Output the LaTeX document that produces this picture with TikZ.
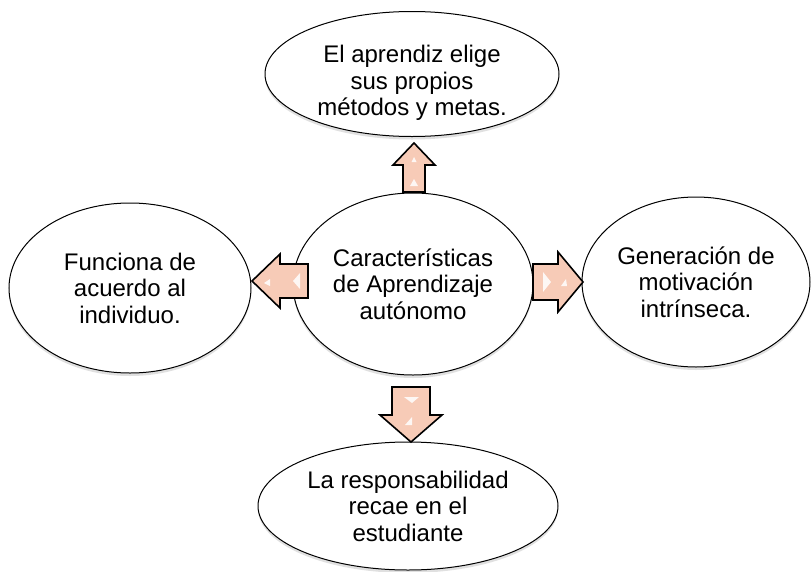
\documentclass[tikz,border=0pt]{standalone}
\usepackage{fontspec}
\setmainfont{Liberation Sans}
\usetikzlibrary{shapes.geometric,shadows}
\definecolor{arrowfill}{RGB}{247,203,183}
\tikzset{
  bubble/.style={ellipse, draw=black, line width=1pt, fill=white, inner sep=0pt,
    align=center, font=\fontsize{24}{26.5}\selectfont,
    drop shadow={shadow xshift=0pt, shadow yshift=-3pt, opacity=0.2, fill=black!60}},
  txt/.style={align=center, inner sep=0pt, font=\fontsize{24}{26.5}\selectfont},
  blockarrow/.style={draw=black, line width=1.6pt, line join=miter, fill=arrowfill},
  shine/.style={fill=white, opacity=0.85, draw=none}
}
\begin{document}
\begin{tikzpicture}[x=1pt,y=-1pt]
\path[use as bounding box, fill=white] (0,0) rectangle (812,571);
% ellipses
\node[bubble, minimum width=294pt, minimum height=125pt] (top) at (412,74) {};
\node[txt] (toptext) at (412,83) {El aprendiz elige\\sus propios\\métodos y metas.};
\node[bubble, minimum width=242pt, minimum height=170pt] (left) at (130,288) {Funciona de\\acuerdo al\\individuo.};
\node[bubble, minimum width=240pt, minimum height=182pt] (center) at (413,284) {Características\\de Aprendizaje\\autónomo};
\node[bubble, minimum width=228pt, minimum height=170pt] (right) at (696,282) {Generación de\\motivación\\intrínseca.};
\node[bubble, minimum width=300pt, minimum height=128pt] (bottom) at (408,506) {La responsabilidad\\recae en el\\estudiante};
% up arrow
\draw[blockarrow] (403,192) -- (403,165) -- (393,165) -- (414,143) -- (435,165) -- (425,165) -- (425,192) -- cycle;
\fill[shine] (411.5,162) -- (414,157) -- (416.5,162) -- cycle;
\fill[shine] (410,186) -- (414,179) -- (418,186) -- cycle;
% left arrow
\draw[blockarrow] (308,264) -- (280,264) -- (280,254) -- (252,281) -- (280,308) -- (280,298) -- (308,298) -- cycle;
\fill[shine] (264,283) -- (270,279) -- (270,286) -- cycle;
\fill[shine] (293,281) -- (300,273) -- (300,289) -- cycle;
% right arrow
\draw[blockarrow] (533,264) -- (558,264) -- (558,252) -- (583,282) -- (558,312) -- (558,300) -- (533,300) -- cycle;
\fill[shine] (543,272) -- (551,282) -- (543,292) -- cycle;
\fill[shine] (566,279) -- (561,286) -- (567,286) -- cycle;
% down arrow
\draw[blockarrow] (392,387) -- (430,387) -- (430,415) -- (442,415) -- (411,442) -- (380,415) -- (392,415) -- cycle;
\fill[shine] (404,397) -- (419,397) -- (412,403) -- cycle;
\fill[shine] (405,425) -- (412,417) -- (412,425) -- cycle;
\end{tikzpicture}
\end{document}
